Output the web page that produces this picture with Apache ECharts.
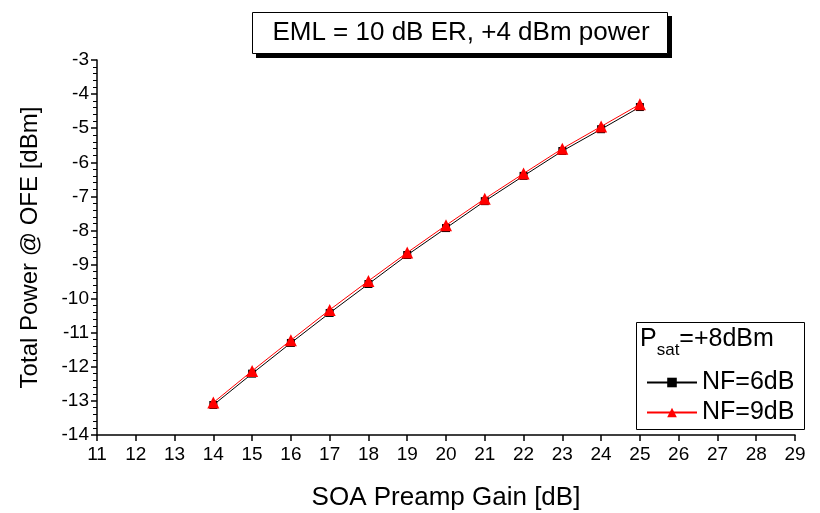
<!DOCTYPE html>
<html>
<head>
<meta charset="utf-8">
<script src="https://cdn.jsdelivr.net/npm/echarts@6/dist/echarts.min.js"></script>
<style>
  html, body { margin: 0; padding: 0; background: #fff; }
  #main { width: 820px; height: 513px; }
</style>
</head>
<body>
<div id="main"></div>
<script>
// SOA preamp gain [dB]
var gain = [14, 15, 16, 17, 18, 19, 20, 21, 22, 23, 24, 25];
// total power at OFE [dBm]
var powerNF6 = [-13.12, -12.2, -11.3, -10.42, -9.57, -8.72, -7.93, -7.14, -6.4, -5.67, -5.03, -4.38];
var powerNF9 = [-13.05, -12.12, -11.22, -10.33, -9.48, -8.65, -7.85, -7.07, -6.33, -5.6, -4.95, -4.3];

var font = 'Liberation Sans, Arial, sans-serif';

function pairs(xs, ys) {
    return xs.map(function (x, i) { return [x, ys[i]]; });
}

var chart = echarts.init(document.getElementById('main'));
var option = {
    backgroundColor: '#fff',
    animation: false,
    grid: { left: 97, right: 25, top: 60, bottom: 78, outerBoundsMode: 'none' },
    xAxis: {
        type: 'value',
        min: 11, max: 29, interval: 1,
        name: 'SOA Preamp Gain [dB]',
        nameLocation: 'middle',
        nameGap: 50,
        nameTextStyle: { fontFamily: font, fontSize: 26, color: '#000' },
        axisLine: { lineStyle: { color: '#000', width: 1.5 } },
        axisTick: { length: 6, lineStyle: { color: '#000', width: 1.5 } },
        axisLabel: { fontFamily: font, fontSize: 19, color: '#000', margin: 10 },
        splitLine: { show: false }
    },
    yAxis: {
        type: 'value',
        min: -14, max: -3, interval: 1,
        name: 'Total Power @ OFE [dBm]',
        nameLocation: 'middle',
        nameGap: 55,
        nameTextStyle: { fontFamily: font, fontSize: 24, color: '#000' },
        axisLine: { lineStyle: { color: '#000', width: 1.5 } },
        axisTick: { length: 6, lineStyle: { color: '#000', width: 1.5 } },
        minorTick: { show: true, splitNumber: 5, length: 4, lineStyle: { color: '#000', width: 1 } },
        axisLabel: { fontFamily: font, fontSize: 19, color: '#000', margin: 8 },
        splitLine: { show: false }
    },
    legend: {
        orient: 'vertical',
        left: 641,
        top: 365,
        itemWidth: 50,
        itemHeight: 12,
        itemGap: 5,
        textStyle: { fontFamily: font, fontSize: 25, color: '#000' },
        data: ['NF=6dB', 'NF=9dB']
    },
    graphic: [
        // title box with drop shadow
        {
            type: 'rect',
            shape: { x: 256, y: 16, width: 416, height: 42 },
            style: { fill: '#000' },
            z: 0
        },
        {
            type: 'rect',
            shape: { x: 252.5, y: 12.5, width: 415, height: 41 },
            style: { fill: '#fff', stroke: '#000', lineWidth: 1 },
            z: 1
        },
        {
            type: 'text',
            x: 461, y: 33,
            z: 2,
            style: {
                text: 'EML = 10 dB ER, +4 dBm power',
                fontFamily: font, fontSize: 26, fill: '#000',
                align: 'center', verticalAlign: 'middle'
            }
        },
        // legend frame
        {
            type: 'rect',
            shape: { x: 636.5, y: 322.5, width: 168, height: 107 },
            style: { fill: '#fff', stroke: '#000', lineWidth: 1 },
            z: 0
        },
        {
            type: 'text',
            left: 640,
            top: 327,
            z: 5,
            style: {
                text: '{a|P}{s|sat}{a|=+8dBm}',
                rich: {
                    a: { fontFamily: font, fontSize: 25, fill: '#000', lineHeight: 32, verticalAlign: 'top' },
                    s: { fontFamily: font, fontSize: 17, fill: '#000', lineHeight: 17, verticalAlign: 'bottom' }
                }
            }
        }
    ],
    series: [
        {
            name: 'NF=6dB',
            type: 'line',
            data: pairs(gain, powerNF6),
            symbol: 'rect',
            symbolSize: 8,
            lineStyle: { color: '#000', width: 1 },
            itemStyle: { color: '#000' },
            z: 3
        },
        {
            name: 'NF=9dB',
            type: 'line',
            data: pairs(gain, powerNF9),
            symbol: 'triangle',
            symbolSize: 12,
            lineStyle: { color: '#ff0000', width: 1 },
            itemStyle: { color: '#ff0000' },
            z: 4
        }
    ]
};
chart.setOption(option);
</script>
</body>
</html>
